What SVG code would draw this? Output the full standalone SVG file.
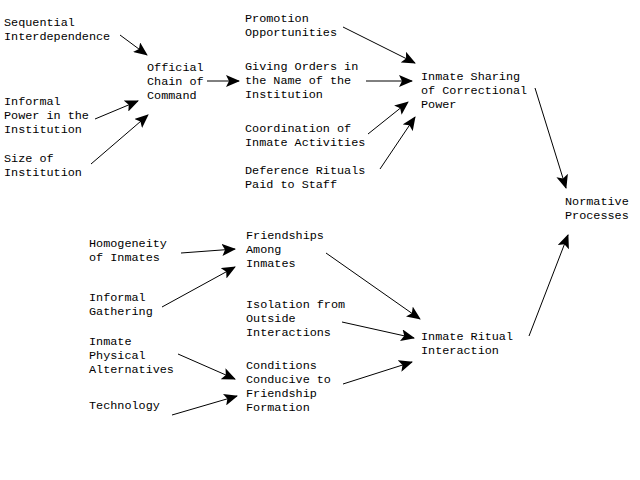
<svg xmlns="http://www.w3.org/2000/svg" width="640" height="480" viewBox="0 0 640 480">
<style>
text{font-family:"Liberation Mono","Courier New",monospace;font-size:11.8px;fill:#000}
.c line{stroke:#000;stroke-width:1;marker-end:url(#ah)}
</style>
<defs>
<marker id="ah" markerUnits="userSpaceOnUse" markerWidth="14" markerHeight="12" viewBox="0 0 14 12" refX="13" refY="6" orient="auto">
<path d="M0,0 L14,6 L0,12 L3,6 z" fill="#000"/>
</marker>
</defs>
<rect width="640" height="480" fill="#fff"/>
<g id="seq"><text x="4" y="26">Sequential</text><text x="4" y="40">Interdependence</text></g>
<g id="infpower"><text x="4" y="105">Informal</text><text x="4" y="119">Power in the</text><text x="4" y="133">Institution</text></g>
<g id="size"><text x="4" y="162">Size of</text><text x="4" y="176">Institution</text></g>
<g id="official"><text x="147" y="71">Official</text><text x="147" y="85">Chain of</text><text x="147" y="99">Command</text></g>
<g id="promotion"><text x="245" y="22">Promotion</text><text x="245" y="36">Opportunities</text></g>
<g id="giving"><text x="245" y="70">Giving Orders in</text><text x="245" y="84">the Name of the</text><text x="245" y="98">Institution</text></g>
<g id="coord"><text x="245" y="132">Coordination of</text><text x="245" y="146">Inmate Activities</text></g>
<g id="deference"><text x="245" y="174">Deference Rituals</text><text x="245" y="188">Paid to Staff</text></g>
<g id="sharing"><text x="421" y="80">Inmate Sharing</text><text x="421" y="94">of Correctional</text><text x="421" y="108">Power</text></g>
<g id="normative"><text x="565" y="205">Normative</text><text x="565" y="219">Processes</text></g>
<g id="homog"><text x="89" y="247">Homogeneity</text><text x="89" y="261">of Inmates</text></g>
<g id="gathering"><text x="89" y="301">Informal</text><text x="89" y="315">Gathering</text></g>
<g id="physical"><text x="89" y="345">Inmate</text><text x="89" y="359">Physical</text><text x="89" y="373">Alternatives</text></g>
<g id="tech"><text x="89" y="409">Technology</text></g>
<g id="friendships"><text x="246" y="239">Friendships</text><text x="246" y="253">Among</text><text x="246" y="267">Inmates</text></g>
<g id="isolation"><text x="246" y="308">Isolation from</text><text x="246" y="322">Outside</text><text x="246" y="336">Interactions</text></g>
<g id="conditions"><text x="246" y="369">Conditions</text><text x="246" y="383">Conducive to</text><text x="246" y="397">Friendship</text><text x="246" y="411">Formation</text></g>
<g id="ritual"><text x="421" y="340">Inmate Ritual</text><text x="421" y="354">Interaction</text></g>
<g class="c" id="connectors">
<line x1="120" y1="35" x2="147" y2="55"/>
<line x1="95" y1="119" x2="138" y2="101"/>
<line x1="91" y1="164" x2="148" y2="115"/>
<line x1="207" y1="81" x2="239" y2="81"/>
<line x1="343" y1="27" x2="415" y2="63"/>
<line x1="366" y1="81" x2="412" y2="81"/>
<line x1="368" y1="134" x2="408" y2="102"/>
<line x1="380" y1="169" x2="415" y2="117"/>
<line x1="535" y1="88" x2="566" y2="188"/>
<line x1="529" y1="336" x2="568" y2="235"/>
<line x1="181" y1="253" x2="235" y2="249"/>
<line x1="162" y1="307" x2="235" y2="267"/>
<line x1="178" y1="354" x2="235" y2="379"/>
<line x1="172" y1="415" x2="237" y2="396"/>
<line x1="326" y1="253" x2="420" y2="319"/>
<line x1="342" y1="322" x2="414" y2="338"/>
<line x1="343" y1="384" x2="412" y2="362"/>
</g>
</svg>
